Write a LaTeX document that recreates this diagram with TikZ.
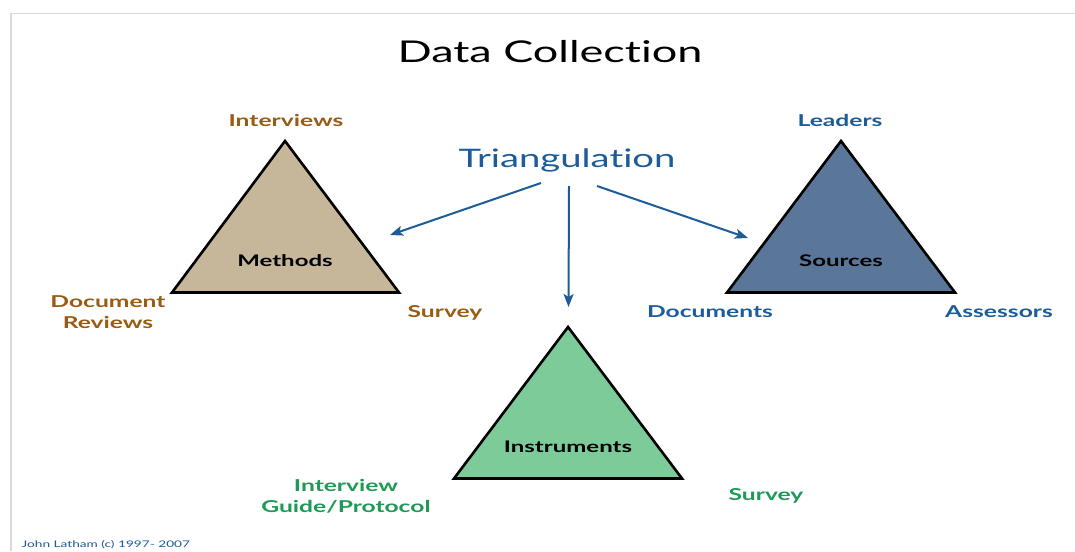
\documentclass[tikz,border=0pt]{standalone}
\usepackage{fontspec}
\setmainfont{Lato}[FakeStretch=1.5, Ligatures=NoCommon]
\usetikzlibrary{arrows.meta}
\definecolor{brownlab}{HTML}{9A5B14}
\definecolor{bluelab}{HTML}{1C5C98}
\definecolor{greenlab}{HTML}{1E9A56}
\definecolor{methfill}{HTML}{C6B79A}
\definecolor{srcfill}{HTML}{5A7698}
\definecolor{insfill}{HTML}{7CCB98}
\definecolor{framegray}{HTML}{D9D9D9}
\tikzset{
  tri/.style={draw=black, line width=2.6pt, line join=miter},
  lab/.style={font=\fontsize{16.4}{21}\selectfont\bfseries, align=center, inner sep=0pt},
  trilab/.style={font=\fontsize{16}{19}\selectfont\bfseries, text=black, inner sep=0pt},
  conn/.style={draw=bluelab, line width=2pt, -{Stealth[length=13pt,width=10pt,inset=3pt]}},
}
\begin{document}
\begin{tikzpicture}[x=1pt,y=-1pt]
\useasboundingbox (0,0) rectangle (1075,551);
\fill[white] (0,0) rectangle (1075,551);
% frame
\draw[framegray, line width=1.6pt] (11,551) -- (11,13.5) -- (1075,13.5);
% title
\node[font=\fontsize{30}{34}\selectfont, inner sep=0pt] (title) at (550,52) {Data Collection};
% triangles
\coordinate (mA) at (285,141); \coordinate (mL) at (172,292.5); \coordinate (mR) at (399,292.5);
\coordinate (sA) at (841,141); \coordinate (sL) at (727,292.5); \coordinate (sR) at (955,292.5);
\coordinate (iA) at (568,327); \coordinate (iL) at (454,478.5); \coordinate (iR) at (682,478.5);
\filldraw[tri, fill=methfill] (mA) -- (mL) -- (mR) -- cycle;
\filldraw[tri, fill=srcfill] (sA) -- (sL) -- (sR) -- cycle;
\filldraw[tri, fill=insfill] (iA) -- (iL) -- (iR) -- cycle;
\node[trilab] (meth) at (285,261) {Methods};
\node[trilab] (src) at (841,261) {Sources};
\node[trilab] (ins) at (568,447) {Instruments};
% labels
\node[lab, text=brownlab] (intv) at (286,120) {Interviews};
\node[lab, text=brownlab] (docrev) at (108,312) {Document\\Reviews};
\node[lab, text=brownlab] (surv1) at (445,313) {Survey};
\node[lab, text=bluelab] (lead) at (840,120) {Leaders};
\node[lab, text=bluelab] (docs) at (710,312) {Documents};
\node[lab, text=bluelab] (asse) at (999,312) {Assessors};
\node[lab, text=greenlab] (guide) at (346,496) {Interview\\Guide/Protocol};
\node[lab, text=greenlab] (surv2) at (766,496) {Survey};
% triangulation
\node[font=\fontsize{25.5}{30}\selectfont, text=bluelab, inner sep=0pt] (tri) at (567,160) {Triangulation};
\coordinate (a1s) at (541,183); \coordinate (a1e) at (390,235);
\coordinate (a2s) at (569,186); \coordinate (a2e) at (568.5,307);
\coordinate (a3s) at (597,186); \coordinate (a3e) at (748,238);
\draw[conn] (a1s) -- (a1e);
\draw[conn] (a2s) -- (a2e);
\draw[conn] (a3s) -- (a3e);
% footer
\node[font=\fontsize{9.1}{11}\selectfont, text=bluelab, anchor=west, inner sep=0pt] (foot) at (21.5,545) {John Latham (c) 1997- 2007};
\end{tikzpicture}
\end{document}
